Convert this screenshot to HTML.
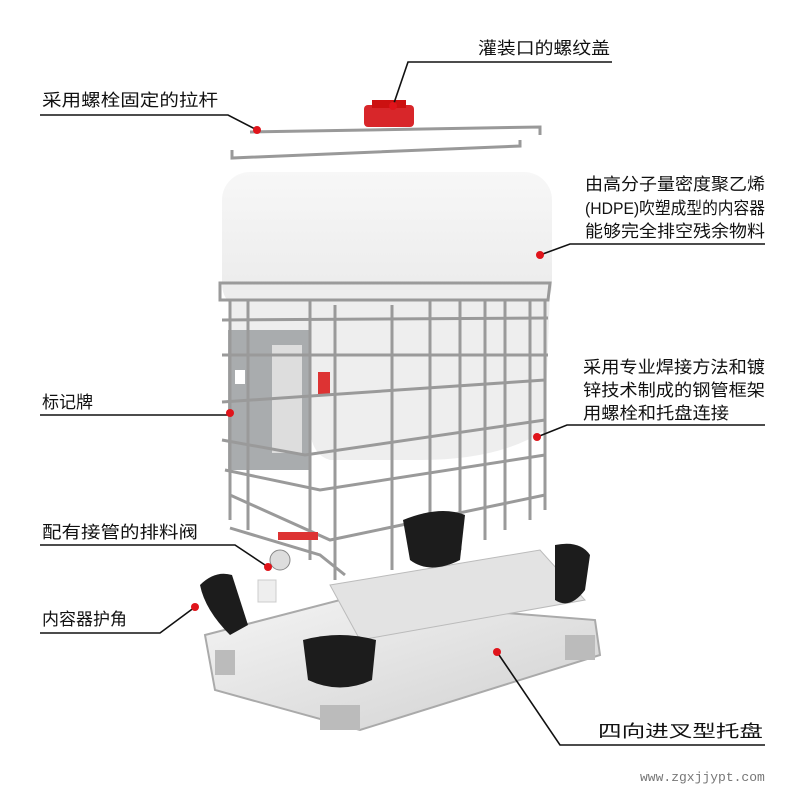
<!DOCTYPE html>
<html><head><meta charset="utf-8">
<style>
html,body{margin:0;padding:0;background:#fff;}
svg text{font-family:"Liberation Sans","Noto Sans CJK SC",sans-serif;font-size:17px;fill:#111;}
</style></head>
<body>
<svg width="800" height="800" viewBox="0 0 800 800" xmlns="http://www.w3.org/2000/svg">
<defs>
<linearGradient id="tank" x1="0" y1="0" x2="0" y2="1">
<stop offset="0" stop-color="#f7f7f7"/><stop offset="1" stop-color="#eaeaea"/>
</linearGradient>
<linearGradient id="pal" x1="0" y1="0" x2="1" y2="1">
<stop offset="0" stop-color="#f4f4f4"/><stop offset="1" stop-color="#d0d0d0"/>
</linearGradient>
</defs>
<rect width="800" height="800" fill="#fff"/>
<path d="M232,150 L232,158 L520,146 L520,140" fill="none" stroke="#999" stroke-width="3"/>
<path d="M250,132 L540,127 L540,135" fill="none" stroke="#999" stroke-width="3"/>
<rect x="364" y="105" width="50" height="22" rx="4" fill="#d8262a"/>
<rect x="372" y="100" width="34" height="8" fill="#c11"/>
<rect x="222" y="172" width="330" height="140" rx="28" fill="url(#tank)"/>
<path d="M230,290 L550,290 L545,430 Q500,460 420,460 L330,460 Q312,455 310,430 L230,420 Z" fill="#eeeeee"/>
<path d="M205,635 L340,600 L595,620 L600,655 L360,730 L215,690 Z" fill="url(#pal)" stroke="#aaa" stroke-width="2"/>
<path d="M330,585 L540,550 L585,600 L360,640 Z" fill="#e3e3e3" stroke="#bbb"/>
<rect x="320" y="705" width="40" height="25" fill="#bbb"/>
<rect x="565" y="635" width="30" height="25" fill="#bbb"/>
<rect x="215" y="650" width="20" height="25" fill="#bbb"/>
<rect x="228" y="330" width="82" height="140" fill="#a9acae"/>
<rect x="272" y="345" width="30" height="108" fill="#ddd"/>
<rect x="235" y="370" width="10" height="14" fill="#fff"/>
<rect x="318" y="372" width="12" height="22" fill="#d33"/>
<g fill="none" stroke="#9a9a9a" stroke-width="3">
<path d="M220,283 L550,283 L548,300 L220,300 Z"/>
<path d="M222,320 L548,318"/>
<path d="M222,355 L548,355"/>
<path d="M222,402 L545,380"/>
<path d="M222,440 L305,455 L545,420"/>
<path d="M225,470 L320,490 L545,455"/>
<path d="M230,495 L330,540 L545,495"/>
<path d="M230,528 L320,555 L345,575"/>
<path d="M230,300 L230,520 M248,300 L248,530 M310,300 L310,560 M335,305 L335,580 M392,305 L392,570 M430,300 L430,560 M460,300 L460,550 M485,300 L485,540 M505,300 L505,530 M530,300 L530,520 M545,300 L545,510"/>
</g>
<g fill="#1c1c1c">
<path d="M403,520 Q440,505 465,515 L460,560 Q430,575 410,560 Z"/>
<path d="M555,545 Q580,540 590,555 L585,590 Q570,610 555,600 Z"/>
<path d="M200,585 Q215,570 232,575 L248,625 L230,635 Q205,610 200,585 Z"/>
<path d="M303,640 Q340,630 376,640 L372,680 Q340,695 308,680 Z"/>
</g>
<rect x="278" y="532" width="40" height="8" fill="#d33"/>
<circle cx="280" cy="560" r="10" fill="#ddd" stroke="#888"/>
<rect x="258" y="580" width="18" height="22" fill="#eee" stroke="#ccc"/>
<g fill="none" stroke="#111" stroke-width="1.6">
<path d="M612,62 L408,62 L393,106"/>
<path d="M40,115 L228,115 L257,130"/>
<path d="M765,244 L570,244 L540,255"/>
<path d="M765,425 L567,425 L537,437"/>
<path d="M40,415 L228,415"/>
<path d="M40,545 L235,545 L268,567"/>
<path d="M40,633 L160,633 L195,607"/>
<path d="M497,652 L560,745 L765,745"/>
</g>
<g fill="#e0141b">
<circle cx="393" cy="106" r="4"/><circle cx="257" cy="130" r="4"/>
<circle cx="540" cy="255" r="4"/><circle cx="537" cy="437" r="4"/>
<circle cx="230" cy="413" r="4"/><circle cx="268" cy="567" r="4"/>
<circle cx="195" cy="607" r="4"/><circle cx="497" cy="652" r="4"/>
</g>
<text x="478" y="54" textLength="132" lengthAdjust="spacingAndGlyphs">灌装口的螺纹盖</text>
<text x="42" y="106" textLength="176" lengthAdjust="spacingAndGlyphs">采用螺栓固定的拉杆</text>
<text x="585" y="190" textLength="180" lengthAdjust="spacingAndGlyphs">由高分子量密度聚乙烯</text>
<text x="585" y="214" textLength="180" lengthAdjust="spacingAndGlyphs">(HDPE)吹塑成型的内容器</text>
<text x="585" y="237" textLength="180" lengthAdjust="spacingAndGlyphs">能够完全排空残余物料</text>
<text x="583" y="373" textLength="182" lengthAdjust="spacingAndGlyphs">采用专业焊接方法和镀</text>
<text x="583" y="396" textLength="182" lengthAdjust="spacingAndGlyphs">锌技术制成的钢管框架</text>
<text x="583" y="419" textLength="146" lengthAdjust="spacingAndGlyphs">用螺栓和托盘连接</text>
<text x="42" y="408">标记牌</text>
<text x="42" y="538" textLength="156" lengthAdjust="spacingAndGlyphs">配有接管的排料阀</text>
<text x="42" y="625">内容器护角</text>
<text x="598" y="737" textLength="165" lengthAdjust="spacingAndGlyphs">四向进叉型托盘</text>
<text x="640" y="781" style="font-size:13px;fill:#777;font-family:'Liberation Mono',monospace">www.zgxjjypt.com</text>
</svg>
</body></html>
